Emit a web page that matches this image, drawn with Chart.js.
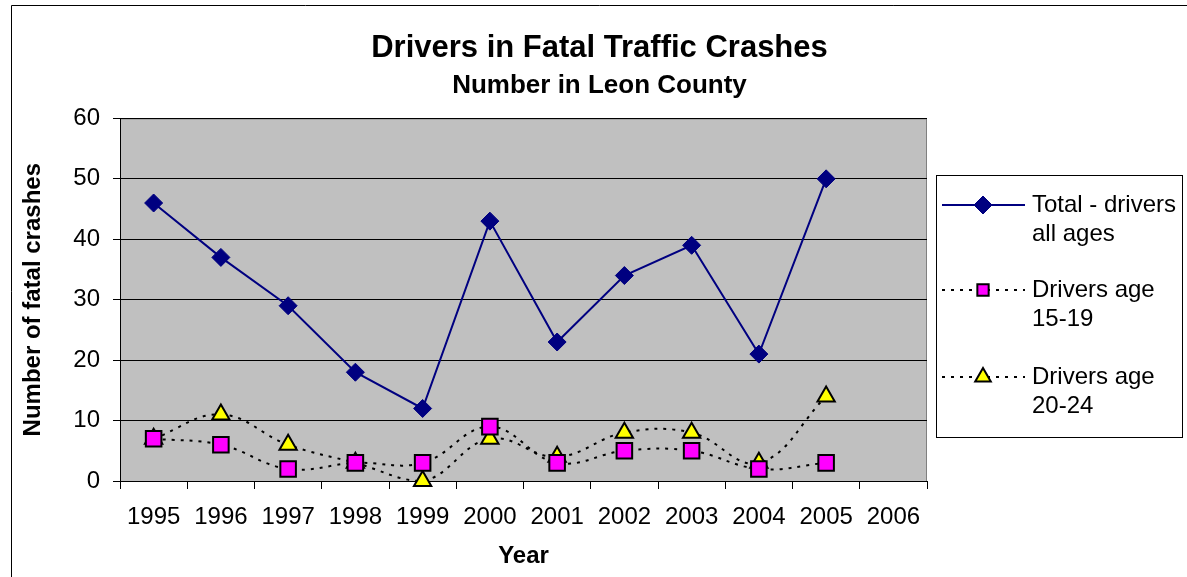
<!DOCTYPE html>
<html>
<head>
<meta charset="utf-8">
<script src="https://cdn.jsdelivr.net/npm/chart.js@4"></script>
<style>
	html, body { margin:0; padding:0; background:#fff; }
	#wrap { position:relative; width:1187px; height:577px; }
</style>
</head>
<body>
<div id="wrap"><canvas id="c"></canvas></div>
<script>
const years = ['1995', '1996', '1997', '1998', '1999', '2000', '2001', '2002', '2003', '2004', '2005', '2006']
const totalAll = [46, 37, 29, 18, 12, 43, 23, 34, 39, 21, 50, null]
const age1519 = [7, 6, 2, 3, 3, 9, 3, 5, 5, 2, 3, null]
const age2024 = [7, 11, 6, 3, 0, 7, 4, 8, 8, 3, 14, null]
const legendLines = [['Total - drivers', 'all ages'], ['Drivers age', '15-19'], ['Drivers age', '20-24']]

const FONT = 'Liberation Sans, Arial, sans-serif'

// plot background + outer frame
const bgPlugin = {
	id: 'bg',
	beforeDraw: ch => {
		const c = ch.ctx, a = ch.chartArea
		c.save()
		c.fillStyle = '#fff'
		c.fillRect(0, 0, ch.width, ch.height)
		c.fillStyle = '#c0c0c0'
		c.fillRect(a.left, a.top, a.right - a.left, a.bottom - a.top)
		c.strokeStyle = '#808080'
		c.lineWidth = 1
		c.strokeRect(a.left + 0.5, a.top + 0.5, a.right - a.left - 1, a.bottom - a.top)
		c.strokeStyle = '#000'
		c.beginPath()
		c.moveTo(11.5, ch.height)
		c.lineTo(11.5, 5.5)
		c.lineTo(ch.width, 5.5)
		c.stroke()
		c.restore()
	}
}

// legend box with two-line labels
const legendPlugin = {
	id: 'legbox',
	afterDraw: ch => {
		const c = ch.ctx
		const bx = 936, by = 175, bw = 246, bh = 262
		c.save()
		c.strokeStyle = '#000'
		c.lineWidth = 1
		c.strokeRect(bx + 0.5, by + 0.5, bw, bh)
		const rows = [205, 290, 377]
		ch.data.datasets.forEach((d, i) => {
			const y = rows[i]
			c.strokeStyle = d.borderColor
			c.lineWidth = d.borderWidth
			c.setLineDash(d.borderDash || [])
			c.beginPath()
			c.moveTo(942, y)
			c.lineTo(1025, y)
			c.stroke()
			c.setLineDash([])
			c.fillStyle = d.pointBackgroundColor
			c.strokeStyle = d.pointBorderColor
			c.lineWidth = d.pointBorderWidth
			Chart.helpers.drawPoint(c, {pointStyle: d.pointStyle, rotation: 0, radius: d.legendRadius, borderWidth: d.pointBorderWidth}, 983, y)
			c.fillStyle = '#000'
			c.font = '24px ' + FONT
			c.textBaseline = 'middle'
			c.fillText(legendLines[i][0], 1032, y)
			c.fillText(legendLines[i][1], 1032, y + 29)
		})
		c.restore()
	}
}

new Chart(document.getElementById('c'), {
	type: 'line',
	data: {
		labels: years,
		datasets: [{
			label: 'Total - drivers all ages',
			data: totalAll,
			borderColor: '#000080',
			borderWidth: 2,
			tension: 0,
			clip: false,
			pointStyle: 'rectRot',
			pointRadius: 9,
			pointHoverRadius: 9,
			legendRadius: 9,
			pointBackgroundColor: '#000080',
			pointBorderColor: '#000080',
			pointBorderWidth: 1,
		},
		{
			label: 'Drivers age 15-19',
			data: age1519,
			borderColor: '#000',
			borderWidth: 2,
			borderDash: [3, 6],
			tension: 0.4,
			clip: false,
			pointStyle: 'rect',
			pointRadius: 11,
			pointHoverRadius: 11,
			legendRadius: 8,
			pointBackgroundColor: '#ff00ff',
			pointBorderColor: '#000',
			pointBorderWidth: 2,
		},
		{
			label: 'Drivers age 20-24',
			data: age2024,
			borderColor: '#000',
			borderWidth: 2,
			borderDash: [3, 6],
			tension: 0.4,
			clip: false,
			pointStyle: 'triangle',
			pointRadius: 10,
			pointHoverRadius: 10,
			legendRadius: 9,
			pointBackgroundColor: '#ffff00',
			pointBorderColor: '#000',
			pointBorderWidth: 2,
		},
		]
	},
	options: {
		responsive: true,
		maintainAspectRatio: false,
		animation: false,
		layout: { padding: { left: 12, right: 0, top: 0, bottom: 6 } },
		plugins: {
			legend: { display: false },
			tooltip: { enabled: false },
			title: {
				display: true,
				text: 'Drivers in Fatal Traffic Crashes',
				color: '#000',
				font: { family: FONT, size: 31, weight: 'bold' },
				padding: { top: 30, bottom: 3 }
			},
			subtitle: {
				display: true,
				text: 'Number in Leon County',
				color: '#000',
				font: { family: FONT, size: 26, weight: 'bold' },
				padding: { top: 0, bottom: 17 }
			}
		},
		scales: {
			x: {
				offset: true,
				afterFit: s => { s.height = 90 },
				grid: { offset: true, drawOnChartArea: false, drawTicks: true, tickLength: 8, color: '#000' },
				border: { color: '#000', width: 1 },
				ticks: { color: '#000', font: { family: FONT, size: 24 }, padding: 14, maxRotation: 0 },
				title: { display: true, text: 'Year', color: '#000', font: { family: FONT, size: 24, weight: 'bold' }, padding: { top: 4, bottom: 0 } }
			},
			y: {
				min: 0,
				max: 60,
				afterFit: s => { s.width = 108 },
				grid: { color: '#000', lineWidth: 1, tickLength: 7 },
				border: { color: '#000', width: 1 },
				ticks: { stepSize: 10, color: '#000', font: { family: FONT, size: 24 }, padding: 13 },
				title: { display: true, text: 'Number of fatal crashes', color: '#000', font: { family: FONT, size: 24, weight: 'bold' }, padding: { top: 7, bottom: 0 } }
			},
			// empty right-hand box that leaves room for the legend
			side: {
				position: 'right',
				afterFit: s => { s.width = 260 },
				grid: { display: false },
				border: { display: false },
				ticks: { display: false }
			}
		}
	},
	plugins: [bgPlugin, legendPlugin]
})
</script>
</body>
</html>
